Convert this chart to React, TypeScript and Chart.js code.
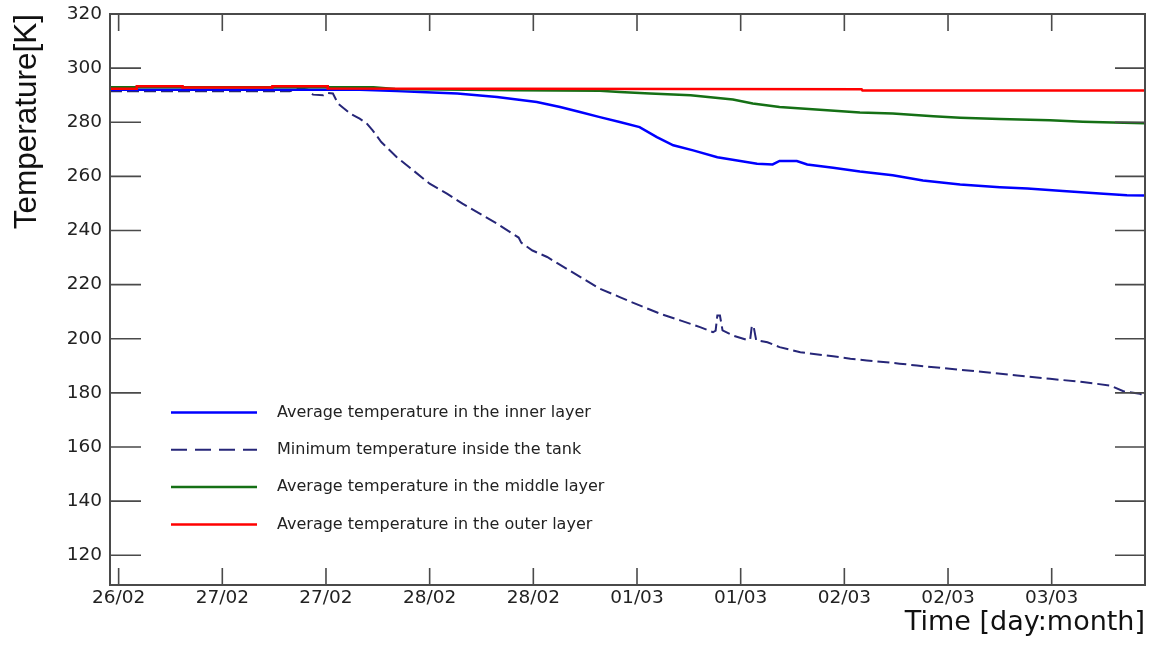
import { useEffect, useRef } from 'react';
import { Chart, registerables } from 'chart.js';

Chart.register(...registerables);

// Time axis is in hours since 26/02 00:00; ticks every 12 hours.
const xTickHours = [12, 24, 36, 48, 60, 72, 84, 96, 108, 120];
const xTickLabels = ['26/02', '27/02', '27/02', '28/02', '28/02', '01/03', '01/03', '02/03', '02/03', '03/03'];
const yTickValues = [120, 140, 160, 180, 200, 220, 240, 260, 280, 300, 320];

const seriesLabels = [
  'Average temperature in the inner layer',
  'Minimum temperature inside the tank',
  'Average temperature in the middle layer',
  'Average temperature in the outer layer',
];

const innerHours = [11.0, 30.0, 39.9, 44.2, 46.9, 51.2, 55.8, 60.4, 63.1, 65.4, 67.7, 70.0, 72.3, 74.3, 76.2, 78.5, 81.3, 83.6, 85.9, 87.7, 88.5, 90.5, 91.7, 94.7, 97.8, 101.6, 105.1, 109.4, 114.0, 117.2, 121.3, 126.0, 128.7, 130.8];
const innerTemps = [292.0, 292.0, 292.0, 291.5, 291.2, 290.6, 289.3, 287.5, 285.6, 283.8, 281.9, 280.1, 278.2, 274.5, 271.5, 269.6, 267.1, 265.9, 264.7, 264.4, 265.7, 265.7, 264.4, 263.2, 261.8, 260.4, 258.5, 257.0, 256.0, 255.5, 254.6, 253.6, 253.0, 252.9];

const minHours = [11.0, 31.8, 32.6, 33.5, 33.9, 34.5, 35.7, 36.2, 36.8, 37.4, 38.8, 39.9, 40.7, 41.4, 42.4, 44.2, 46.1, 48.0, 50.0, 51.8, 53.8, 55.8, 57.6, 58.3, 58.6, 59.9, 61.6, 67.7, 70.0, 72.3, 74.7, 77.0, 79.3, 80.8, 81.1, 81.3, 81.6, 81.9, 83.1, 84.7, 85.1, 85.3, 85.5, 85.8, 87.1, 88.5, 90.9, 94.7, 96.7, 98.6, 100.5, 102.4, 104.4, 108.2, 112.1, 116.0, 119.8, 123.6, 126.8, 128.3, 130.2, 130.8];
const minTemps = [291.5, 291.5, 292.3, 292.3, 292.0, 290.2, 290.0, 290.8, 290.6, 286.9, 283.2, 281.3, 279.6, 277.0, 272.7, 267.1, 262.2, 257.3, 253.6, 249.9, 246.2, 242.5, 238.8, 237.4, 235.5, 232.6, 230.2, 218.5, 215.4, 212.3, 209.2, 206.8, 204.3, 202.4, 203.0, 208.6, 208.6, 203.1, 201.2, 199.6, 199.8, 204.9, 204.5, 199.4, 198.7, 196.9, 195.0, 193.5, 192.6, 192.0, 191.4, 190.8, 190.1, 188.9, 187.7, 186.4, 185.2, 184.0, 182.7, 180.6, 179.7, 178.7];

const middleHours = [11.0, 41.5, 44.0, 57.6, 67.7, 70.0, 73.5, 78.2, 83.1, 85.4, 88.5, 94.0, 97.8, 101.6, 106.3, 109.4, 114.0, 119.8, 123.6, 127.1, 130.8];
const middleTemps = [292.9, 292.9, 292.3, 291.8, 291.6, 291.2, 290.6, 290.0, 288.4, 286.9, 285.6, 284.4, 283.6, 283.2, 282.2, 281.7, 281.2, 280.7, 280.2, 279.9, 279.6];

const outerHours = [11.0, 14.1, 14.1, 19.4, 19.4, 29.8, 29.8, 36.2, 36.2, 98.0, 98.1, 130.8];
const outerTemps = [292.4, 292.4, 293.3, 293.3, 292.8, 292.8, 293.3, 293.3, 292.5, 292.2, 291.7, 291.7];

const toPoints = (hours: number[], temps: number[]) => hours.map((h, i) => ({ x: h, y: temps[i] }));

const TEXT_FONT = "'DejaVu Sans', 'Liberation Sans', Arial, sans-serif";

// Frame around the plot with inward-pointing tick marks on all four sides.
const framePlugin = {
  id: 'frameTicks',
  afterDraw(chart: any) {
    const { ctx, chartArea: a, scales } = chart;
    ctx.save();
    ctx.strokeStyle = '#4a4a4a';
    ctx.lineWidth = 1.6;
    ctx.beginPath();
    for (const h of xTickHours) {
      const px = scales.x.getPixelForValue(h);
      ctx.moveTo(px, a.bottom);
      ctx.lineTo(px, a.bottom - 17);
      ctx.moveTo(px, a.top);
      ctx.lineTo(px, a.top + 17);
    }
    for (const v of yTickValues) {
      const py = scales.y.getPixelForValue(v);
      ctx.moveTo(a.left, py);
      ctx.lineTo(a.left + 31, py);
      ctx.moveTo(a.right, py);
      ctx.lineTo(a.right - 30, py);
    }
    ctx.stroke();
    ctx.lineWidth = 2;
    ctx.strokeRect(a.left, a.top, a.right - a.left, a.bottom - a.top);
    ctx.restore();
  },
};

// Line-sample legend placed inside the plot area, lower left.
const legendPlugin = {
  id: 'insideLegend',
  afterDraw(chart: any) {
    const { ctx, chartArea: a } = chart;
    const x0 = a.left + 61;
    const lineLen = 86;
    const textX = a.left + 167;
    const y0 = a.top + 398.5;
    const rowGap = 37.3;
    ctx.save();
    ctx.font = `16px ${TEXT_FONT}`;
    ctx.textBaseline = 'middle';
    ctx.textAlign = 'left';
    chart.data.datasets.forEach((ds: any, i: number) => {
      const y = y0 + i * rowGap;
      ctx.strokeStyle = ds.borderColor;
      ctx.lineWidth = ds.borderWidth;
      ctx.setLineDash(ds.borderDash && ds.borderDash.length ? [16, 8] : []);
      ctx.beginPath();
      ctx.moveTo(x0, y);
      ctx.lineTo(x0 + lineLen, y);
      ctx.stroke();
      ctx.setLineDash([]);
      ctx.fillStyle = '#222';
      ctx.fillText(ds.label, textX, y);
    });
    ctx.restore();
  },
};

export default function App() {
  const canvasRef = useRef<HTMLCanvasElement | null>(null);

  useEffect(() => {
    if (!canvasRef.current) return;
    const chart = new Chart(canvasRef.current, {
      type: 'line',
      data: {
        datasets: [
          {
            label: seriesLabels[0],
            data: toPoints(innerHours, innerTemps),
            borderColor: '#0000ff',
            borderWidth: 2.5,
            pointRadius: 0,
            order: 3,
          },
          {
            label: seriesLabels[1],
            data: toPoints(minHours, minTemps),
            borderColor: '#262678',
            borderWidth: 2,
            borderDash: [12, 5],
            pointRadius: 0,
            order: 4,
          },
          {
            label: seriesLabels[2],
            data: toPoints(middleHours, middleTemps),
            borderColor: '#157015',
            borderWidth: 2.5,
            pointRadius: 0,
            order: 2,
          },
          {
            label: seriesLabels[3],
            data: toPoints(outerHours, outerTemps),
            borderColor: '#ff0000',
            borderWidth: 2.5,
            pointRadius: 0,
            order: 1,
          },
        ],
      },
      options: {
        animation: false,
        responsive: true,
        maintainAspectRatio: false,
        layout: { padding: { top: 14, right: 6, bottom: 0, left: 0 } },
        plugins: {
          legend: { display: false },
          tooltip: { enabled: false },
        },
        scales: {
          x: {
            type: 'linear',
            min: 11.0,
            max: 130.8,
            grid: { display: false, drawTicks: false },
            border: { display: false },
            afterBuildTicks: (scale: any) => {
              scale.ticks = xTickHours.map((v) => ({ value: v }));
            },
            afterFit: (scale: any) => {
              scale.height = 60;
              scale.paddingLeft = 0;
              scale.paddingRight = 0;
            },
            ticks: {
              padding: 2,
              maxRotation: 0,
              autoSkip: false,
              color: '#222',
              font: { family: TEXT_FONT, size: 18.5 },
              callback: (_v: any, i: number) => xTickLabels[i],
            },
            title: {
              display: true,
              text: 'Time [day:month]',
              align: 'end',
              color: '#111',
              padding: { top: 0, bottom: 5.5 },
              font: { family: TEXT_FONT, size: 27 },
            },
          },
          y: {
            type: 'linear',
            min: 109,
            max: 320,
            grid: { display: false, drawTicks: false },
            border: { display: false },
            afterBuildTicks: (scale: any) => {
              scale.ticks = yTickValues.map((v) => ({ value: v }));
            },
            afterFit: (scale: any) => {
              scale.width = 110;
              scale.paddingTop = 0;
              scale.paddingBottom = 0;
            },
            ticks: {
              padding: 8,
              color: '#222',
              font: { family: TEXT_FONT, size: 18.5 },
              callback: (v: any) => String(v),
            },
            title: {
              display: true,
              text: 'Temperature[K]',
              align: 'end',
              color: '#111',
              padding: { top: 8, bottom: 0 },
              font: { family: "'Liberation Sans', Arial, sans-serif", size: 31.5 },
            },
          },
        },
      },
      plugins: [framePlugin, legendPlugin],
    });
    return () => chart.destroy();
  }, []);

  return (
    <div style={{ position: 'fixed', left: 0, top: 0, width: '100vw', height: '100vh', background: '#fff' }}>
      <canvas ref={canvasRef} />
    </div>
  );
}
